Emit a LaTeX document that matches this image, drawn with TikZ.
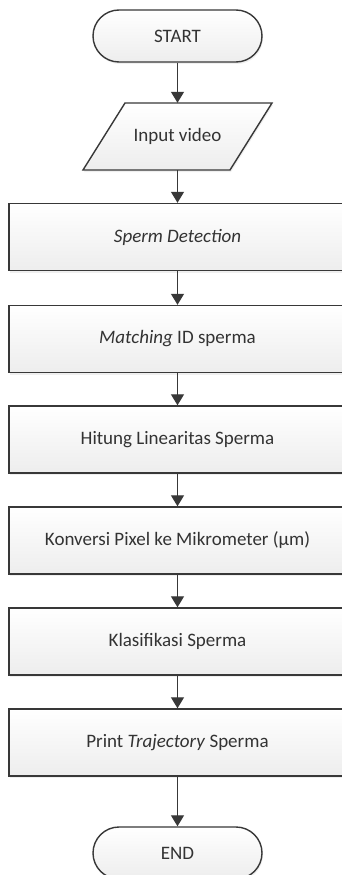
\documentclass[tikz,border=0pt]{standalone}
\usepackage{fontspec}
\setmainfont{Carlito}
\usetikzlibrary{arrows.meta,shadows}
\definecolor{linegray}{HTML}{383838}
\definecolor{textgray}{HTML}{333333}
\begin{document}
\begin{tikzpicture}[x=1pt,y=-1pt,
  font=\fontsize{19}{21}\selectfont, text=textgray,
  boxfill/.style={draw=linegray, line width=1.4pt, top color=white, bottom color=gray!14,
     drop shadow={opacity=0.12, shadow xshift=1pt, shadow yshift=-2pt}},
  procbox/.style={boxfill, rectangle, minimum width=337pt, minimum height=67pt, inner sep=0pt},
  termbox/.style={boxfill, rectangle, rounded corners=26pt, minimum width=169pt, minimum height=52pt, inner sep=0pt},
  flow/.style={draw=linegray, line width=1.3pt, -{Triangle[width=13pt,length=11pt]}}]
\useasboundingbox (0,0) rectangle (342,875);
\fill[white] (0,0) rectangle (342,875);
\node[termbox] (start) at (177.5,36) {START};
% parallelogram
\path[boxfill] (125,103) -- (272,103) -- (230,170) -- (83,170) -- cycle;
\node[inner sep=0pt, minimum width=147pt, minimum height=67pt] (in) at (177.5,136.5) {Input video};
\node[procbox] (det) at (177.5,237) {\textit{Sperm Detection}};
\node[procbox] (match) at (177.5,339) {\textit{Matching} ID sperma};
\node[procbox] (lin) at (177.5,439.5) {Hitung Linearitas Sperma};
\node[procbox] (konv) at (177.5,540.5) {Konversi Pixel ke Mikrometer (µm)};
\node[procbox] (klas) at (177.5,641.5) {Klasifikasi Sperma};
\node[procbox] (print) at (177.5,742.5) {Print \textit{Trajectory} Sperma};
\node[termbox] (end) at (177.5,853) {END};
\draw[flow] (start) -- (in);
\draw[flow] (in) -- (det);
\draw[flow] (det) -- (match);
\draw[flow] (match) -- (lin);
\draw[flow] (lin) -- (konv);
\draw[flow] (konv) -- (klas);
\draw[flow] (klas) -- (print);
\draw[flow] (print) -- (end);
\end{tikzpicture}
\end{document}
